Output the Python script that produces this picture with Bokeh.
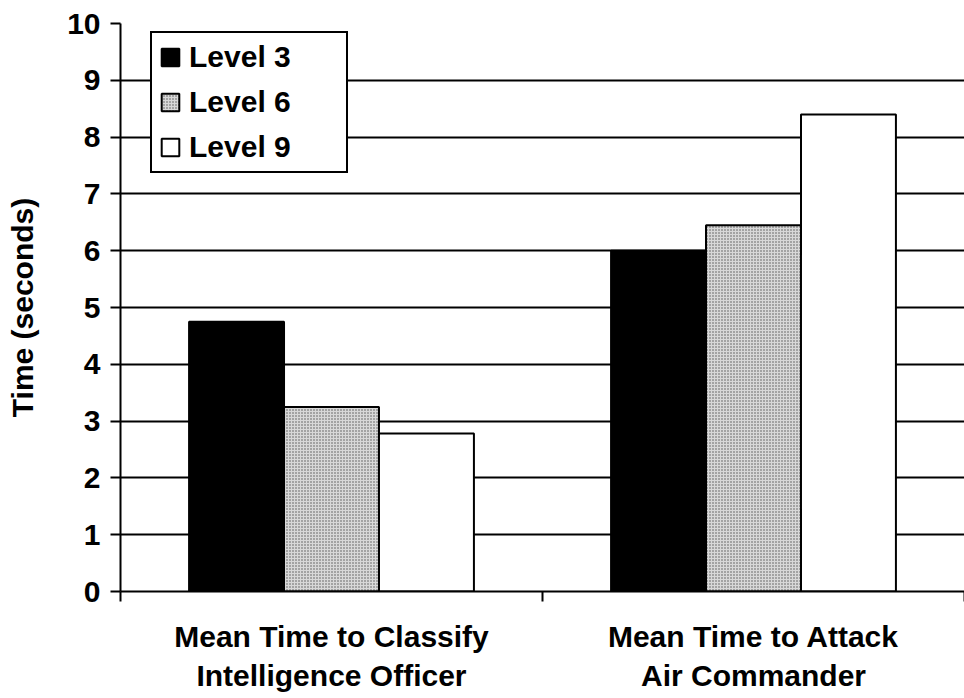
from bokeh.plotting import figure
from bokeh.models import Range1d, FixedTicker, ColumnDataSource
from bokeh.transform import dodge
from bokeh.embed import file_html
from bokeh.resources import INLINE

# ---- data ----
categories = ["Mean Time to Classify\nIntelligence Officer",
              "Mean Time to Attack\nAir Commander"]
levels = ["Level 3", "Level 6", "Level 9"]
level3 = [4.75, 6.0]
level6 = [3.25, 6.45]
level9 = [2.78, 8.4]
y_ticks = [0, 1, 2, 3, 4, 5, 6, 7, 8, 9, 10]

FONT = "Liberation Sans"

xpos = [i + 0.5 for i in range(len(categories))]
src = ColumnDataSource(dict(x=xpos, l3=level3, l6=level6, l9=level9))

p = figure(width=964, height=698, output_backend="svg", toolbar_location=None,
           x_range=Range1d(0, len(categories)), y_range=Range1d(0, 10),
           min_border_left=120, min_border_right=0, min_border_top=23,
           min_border_bottom=107)
p.outline_line_color = None
p.background_fill_color = "white"
p.border_fill_color = "white"

# grid
p.xgrid.grid_line_color = None
p.ygrid.grid_line_color = "black"
p.ygrid.grid_line_width = 2
p.ygrid.ticker = FixedTicker(ticks=y_ticks)

bw = 0.225
styles = [
    dict(field="l3", off=-bw, fill_color="black", hatch_pattern=None),
    dict(field="l6", off=0.0, fill_color="#d8d8d8", hatch_pattern="dot"),
    dict(field="l9", off=bw, fill_color="white", hatch_pattern=None),
]
for lab, st in zip(levels, styles):
    kw = {}
    if st["hatch_pattern"]:
        kw = dict(hatch_pattern=st["hatch_pattern"], hatch_color="#444444",
                  hatch_scale=3, hatch_weight=1, hatch_alpha=0.9)
    p.vbar(x=dodge("x", st["off"], range=p.x_range), top=st["field"], width=bw,
           bottom=0, source=src, fill_color=st["fill_color"], line_color="black",
           line_width=2, legend_label=lab, **kw)

# y axis
ya = p.yaxis[0]
ya.ticker = FixedTicker(ticks=y_ticks)
ya.axis_label = "Time (seconds)"
ya.axis_label_text_font = FONT
ya.axis_label_text_font_style = "bold"
ya.axis_label_text_font_size = "30px"
ya.axis_label_text_color = "black"
ya.axis_label_standoff = 25
ya.major_label_text_font = FONT
ya.major_label_text_font_style = "bold"
ya.major_label_text_font_size = "30px"
ya.major_label_text_color = "black"
ya.major_label_standoff = 10
ya.axis_line_color = "black"
ya.axis_line_width = 2
ya.major_tick_line_color = "black"
ya.major_tick_line_width = 2
ya.major_tick_out = 10
ya.major_tick_in = 0
ya.minor_tick_line_color = None

# x axis
xa = p.xaxis[0]
xa.ticker = FixedTicker(ticks=xpos, minor_ticks=list(range(len(categories) + 1)))
xa.major_label_overrides = {x: c for x, c in zip(xpos, categories)}
xa.major_label_text_font = FONT
xa.major_label_text_font_style = "bold"
xa.major_label_text_font_size = "30px"
xa.major_label_text_color = "black"
xa.major_label_text_align = "center"
xa.major_label_standoff = 18
xa.axis_line_color = "black"
xa.axis_line_width = 2
xa.major_tick_line_color = None
xa.major_tick_out = 0
xa.major_tick_in = 0
xa.minor_tick_line_color = "black"
xa.minor_tick_line_width = 2
xa.minor_tick_out = 10
xa.minor_tick_in = 0

# legend
lg = p.legend[0]
lg.location = (30, 418)
lg.border_line_color = "black"
lg.border_line_alpha = 1
lg.border_line_width = 2
lg.background_fill_color = "white"
lg.background_fill_alpha = 1
lg.label_text_font = FONT
lg.label_text_font_style = "bold"
lg.label_text_font_size = "30px"
lg.label_text_color = "black"
lg.glyph_width = 22
lg.glyph_height = 22
lg.padding = 7
lg.spacing = 11
lg.label_standoff = 8
lg.label_width = 150
lg.margin = 0

open("out.html", "w").write(file_html(p, INLINE))
